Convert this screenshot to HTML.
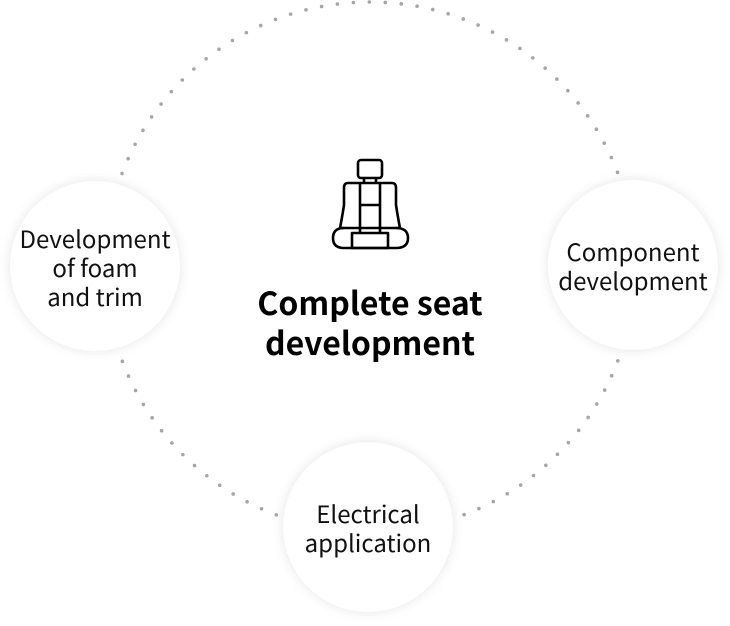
<!DOCTYPE html>
<html><head><style>
body{margin:0;width:730px;height:626px;background:#fff;overflow:hidden;position:relative;font-family:"Noto Sans CJK JP","DejaVu Sans",sans-serif}
.c{position:absolute;width:170px;height:170px;border-radius:50%;background:#fff;box-shadow:0 0 12px rgba(0,0,0,0.10);display:flex;align-items:center;justify-content:center;text-align:center;font-size:24px;line-height:29px;color:#111}
.t{position:absolute;left:120px;width:500px;top:282px;text-align:center;font-weight:bold;font-size:32px;line-height:40px;color:#000}
</style></head><body>
<svg width="730" height="626" style="position:absolute;left:0;top:0">
<circle cx="370" cy="267" r="265" fill="none" stroke="#a5a5a5" stroke-width="3.6" stroke-linecap="round" stroke-dasharray="0 16"/>
<g fill="none" stroke="#000" stroke-width="2.6" stroke-linejoin="round">
<rect x="358" y="160" width="24" height="18" rx="3"/>
<line x1="364" y1="178" x2="364" y2="183"/><line x1="376" y1="178" x2="376" y2="183"/>
<path d="M348 183 L392 183 Q396 183 396 188 L396 205 Q398 218 400 228 L340 228 Q342 218 344 205 L344 188 Q344 183 348 183 Z"/>
<line x1="360" y1="183" x2="360" y2="233"/><line x1="380" y1="183" x2="380" y2="233"/>
<line x1="360" y1="205" x2="380" y2="205"/>
<path d="M344 228 Q333 228 333 238 Q333 248 344 248 L396 248 Q408 248 408 238 Q408 228 396 228"/>
<rect x="352" y="233" width="36" height="15"/>
</g>
</svg>
<div class="c" style="left:10px;top:181px">Development<br>of foam<br>and trim</div>
<div class="c" style="left:548px;top:180px">Component<br>development</div>
<div class="c" style="left:283px;top:442px">Electrical<br>application</div>
<div class="t">Complete seat<br>development</div>
</body></html>
